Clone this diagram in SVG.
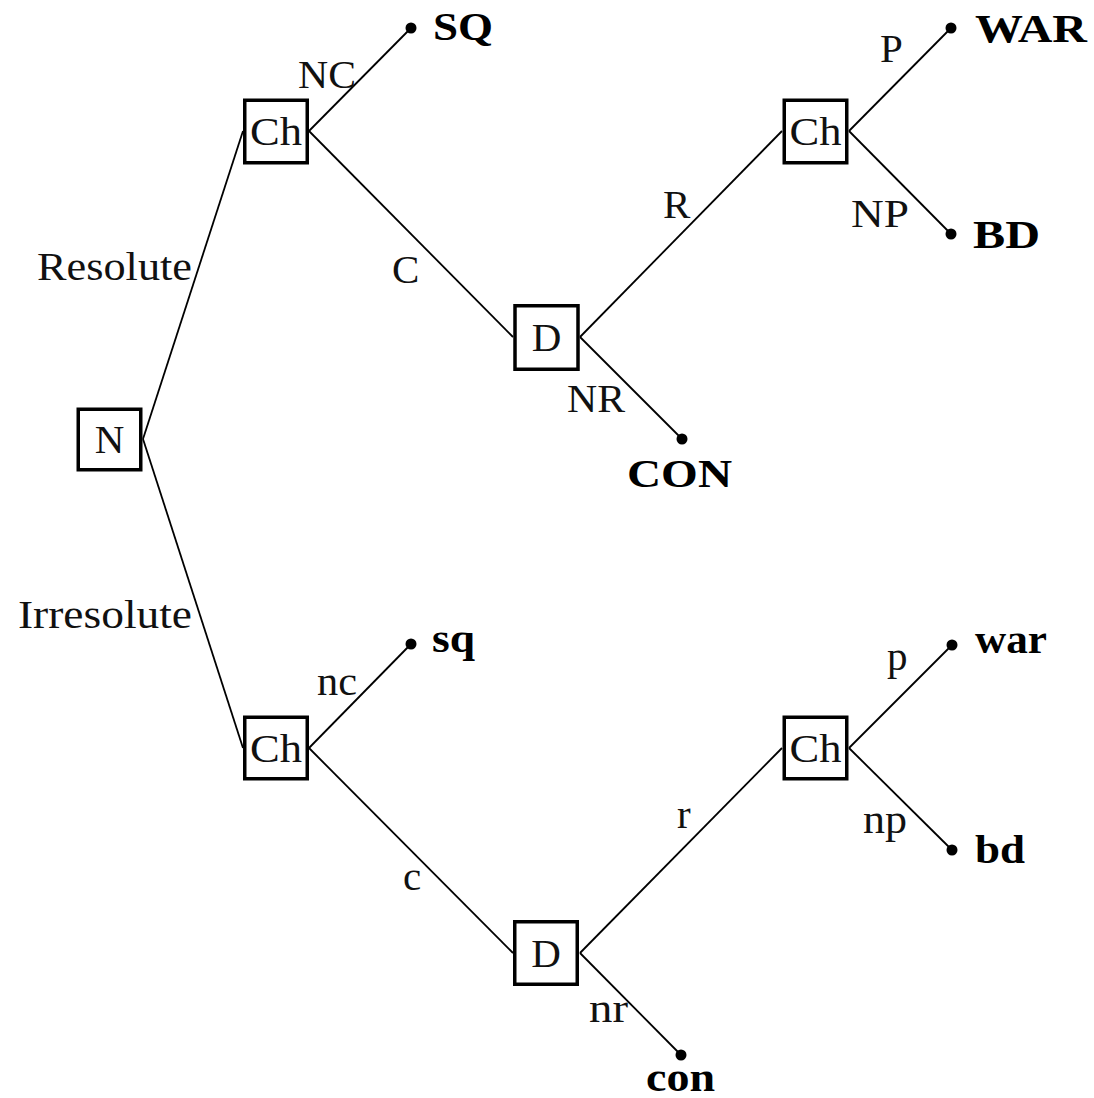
<svg xmlns="http://www.w3.org/2000/svg" width="1094" height="1098" viewBox="0 0 1094 1098">
  <style>
    .edge { stroke: #000; stroke-width: 1.8; fill: none; }
    .box rect { fill: #fff; stroke: #000; stroke-width: 3.5; }
    .box text, .lbl { font-family: "Liberation Serif", "Times New Roman", serif; font-size: 41px; fill: #111; }
    .box text { text-anchor: middle; }
    .term { font-family: "Liberation Serif", "Times New Roman", serif; font-size: 41px; font-weight: bold; fill: #000; }
    .dot { fill: #000; }
  </style>
  <rect width="1094" height="1098" fill="#fff"/>

  <!-- branches of the game tree -->
  <g id="connectors">
    <line class="edge" x1="143" y1="439" x2="243" y2="131"/>
    <line class="edge" x1="309" y1="131" x2="411" y2="28"/>
    <line class="edge" x1="309" y1="131" x2="513" y2="337"/>
    <line class="edge" x1="580" y1="337" x2="782" y2="131"/>
    <line class="edge" x1="580" y1="337" x2="682" y2="439"/>
    <line class="edge" x1="849" y1="131" x2="951" y2="28"/>
    <line class="edge" x1="849" y1="131" x2="951" y2="234"/>

    <line class="edge" x1="143" y1="439" x2="243" y2="748"/>
    <line class="edge" x1="309" y1="748" x2="411" y2="644"/>
    <line class="edge" x1="309" y1="748" x2="513" y2="953"/>
    <line class="edge" x1="580" y1="953" x2="782" y2="748"/>
    <line class="edge" x1="580" y1="953" x2="681" y2="1055"/>
    <line class="edge" x1="849" y1="748" x2="952" y2="645"/>
    <line class="edge" x1="849" y1="748" x2="952" y2="850"/>

    <!-- branch labels -->
    <text class="lbl" x="37" y="280" textLength="155" lengthAdjust="spacingAndGlyphs">Resolute</text>
    <text class="lbl" x="18" y="628" textLength="174" lengthAdjust="spacingAndGlyphs">Irresolute</text>
    <text class="lbl" x="298" y="88" textLength="58" lengthAdjust="spacingAndGlyphs">NC</text>
    <text class="lbl" x="392" y="283">C</text>
    <text class="lbl" x="663" y="218">R</text>
    <text class="lbl" x="567" y="412" textLength="58" lengthAdjust="spacingAndGlyphs">NR</text>
    <text class="lbl" x="880" y="62">P</text>
    <text class="lbl" x="851" y="227" textLength="58" lengthAdjust="spacingAndGlyphs">NP</text>
    <text class="lbl" x="317" y="695" textLength="40" lengthAdjust="spacingAndGlyphs">nc</text>
    <text class="lbl" x="403" y="890">c</text>
    <text class="lbl" x="677" y="828">r</text>
    <text class="lbl" x="589" y="1022" textLength="39" lengthAdjust="spacingAndGlyphs">nr</text>
    <text class="lbl" x="887" y="670">p</text>
    <text class="lbl" x="863" y="833" textLength="44" lengthAdjust="spacingAndGlyphs">np</text>
  </g>

  <!-- decision nodes -->
  <g id="node-N" class="box">
    <rect x="78.25" y="409.25" width="62.5" height="60.5"/>
    <text x="109.5" y="453">N</text>
  </g>
  <g id="node-Ch-resolute" class="box">
    <rect x="244.75" y="100.25" width="62.5" height="62.5"/>
    <text x="276" y="145" textLength="52" lengthAdjust="spacingAndGlyphs">Ch</text>
  </g>
  <g id="node-D-resolute" class="box">
    <rect x="515" y="305.75" width="63" height="63.5"/>
    <text x="546.5" y="351">D</text>
  </g>
  <g id="node-Ch-resolute-2" class="box">
    <rect x="784.25" y="100.25" width="62.5" height="62.5"/>
    <text x="815.5" y="145" textLength="52" lengthAdjust="spacingAndGlyphs">Ch</text>
  </g>
  <g id="node-Ch-irresolute" class="box">
    <rect x="244.75" y="717.25" width="62.5" height="61.5"/>
    <text x="276" y="762" textLength="52" lengthAdjust="spacingAndGlyphs">Ch</text>
  </g>
  <g id="node-D-irresolute" class="box">
    <rect x="514.75" y="921.75" width="62.5" height="62.5"/>
    <text x="546" y="967">D</text>
  </g>
  <g id="node-Ch-irresolute-2" class="box">
    <rect x="784.25" y="717.25" width="62.5" height="61.5"/>
    <text x="815.5" y="762" textLength="52" lengthAdjust="spacingAndGlyphs">Ch</text>
  </g>

  <!-- outcomes -->
  <g id="out-SQ"><circle class="dot" cx="411" cy="28" r="5.5"/><text class="term" x="433" y="40" textLength="60" lengthAdjust="spacingAndGlyphs">SQ</text></g>
  <g id="out-WAR"><circle class="dot" cx="951" cy="28" r="5.5"/><text class="term" x="975" y="42" textLength="112" lengthAdjust="spacingAndGlyphs">WAR</text></g>
  <g id="out-BD"><circle class="dot" cx="951" cy="234" r="5.5"/><text class="term" x="973" y="248" textLength="67" lengthAdjust="spacingAndGlyphs">BD</text></g>
  <g id="out-CON"><circle class="dot" cx="682" cy="439" r="5.5"/><text class="term" x="627" y="487" textLength="105" lengthAdjust="spacingAndGlyphs">CON</text></g>
  <g id="out-sq"><circle class="dot" cx="411" cy="644" r="5.5"/><text class="term" x="432" y="652" textLength="43" lengthAdjust="spacingAndGlyphs">sq</text></g>
  <g id="out-war"><circle class="dot" cx="952" cy="645" r="5.5"/><text class="term" x="975" y="653" textLength="72" lengthAdjust="spacingAndGlyphs">war</text></g>
  <g id="out-bd"><circle class="dot" cx="952" cy="850" r="5.5"/><text class="term" x="975" y="863" textLength="50" lengthAdjust="spacingAndGlyphs">bd</text></g>
  <g id="out-con"><circle class="dot" cx="681" cy="1055" r="5.5"/><text class="term" x="646" y="1091" textLength="69" lengthAdjust="spacingAndGlyphs">con</text></g>
</svg>
